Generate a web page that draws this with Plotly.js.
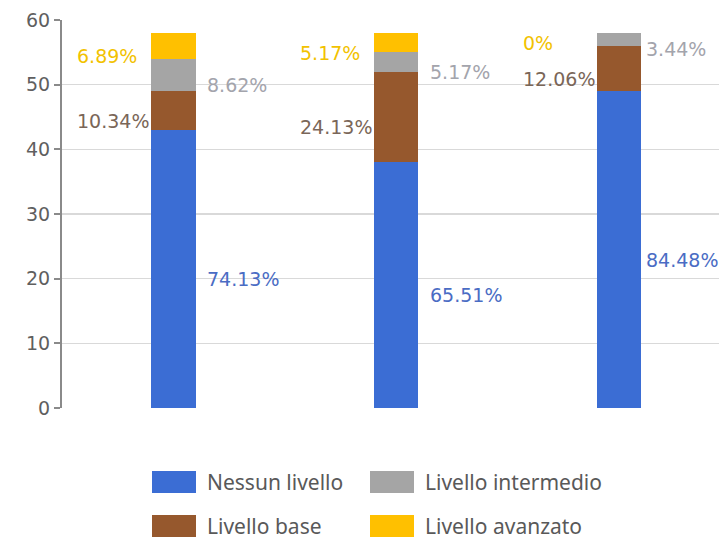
<!DOCTYPE html>
<html>
<head>
<meta charset="utf-8">
<script src="https://cdn.plot.ly/plotly-3.0.1.min.js"></script>
<style>
  html, body { margin: 0; padding: 0; background: #ffffff; }
  #chart { width: 719px; height: 545px; }
</style>
</head>
<body>
<div id="chart"></div>
<script>
// ---- data ----
const categories = ["Gruppo 1", "Gruppo 2", "Gruppo 3"];
const seriesNames = ["Nessun livello", "Livello base", "Livello intermedio", "Livello avanzato"];
const nessunLivello = [43, 38, 49];
const livelloBase = [6, 14, 7];
const livelloIntermedio = [5, 3, 2];
const livelloAvanzato = [4, 3, 0];
const pctNessun = ["74.13%", "65.51%", "84.48%"];
const pctBase = ["10.34%", "24.13%", "12.06%"];
const pctIntermedio = ["8.62%", "5.17%", "3.44%"];
const pctAvanzato = ["6.89%", "5.17%", "0%"];
const yTickVals = [0, 10, 20, 30, 40, 50, 60];

// ---- styles ----
const barColors = ["#3b6dd4", "#96582d", "#a5a5a5", "#ffc000"];
const labelColors = ["#4a6cc4", "#7a6658", "#a3a4ac", "#f2c200"];
const labelSide = ["right", "left", "right", "left"];
const FONT = "DejaVu Sans, sans-serif";

const values = [nessunLivello, livelloBase, livelloIntermedio, livelloAvanzato];
const pcts = [pctNessun, pctBase, pctIntermedio, pctAvanzato];

const traces = values.map((v, k) => ({
  type: "bar",
  name: seriesNames[k],
  x: categories,
  y: v,
  width: 0.2,
  marker: { color: barColors[k], line: { width: 0 } },
  hoverinfo: "x+y+name",
  showlegend: false
}));

// data labels beside each segment
const annotations = [];
categories.forEach((c, i) => {
  let bottom = 0;
  values.forEach((v, k) => {
    const mid = bottom + v[i] / 2;
    bottom += v[i];
    const right = labelSide[k] === "right";
    annotations.push({
      x: c, y: mid, xref: "x", yref: "y",
      text: pcts[k][i],
      showarrow: false,
      xanchor: "left",
      // keep the last right-hand label inside the page edge
      xshift: right ? (i === categories.length - 1 ? 25 : 32) : -98,
      yshift: -10,
      font: { family: FONT, size: 19, color: labelColors[k] }
    });
  });
});

// custom legend (paper coords from pixel layout)
const L = 62, R = 719, T = 20, B = 408;
const px = p => (p - L) / (R - L);
const py = p => (B - p) / (B - T);
const legendOrder = [0, 2, 1, 3];
const legendCols = [152, 370];
const legendRows = [482, 526];
const shapes = [];
legendOrder.forEach((k, j) => {
  const col = legendCols[j % 2];
  const row = legendRows[Math.floor(j / 2)];
  shapes.push({
    type: "rect", xref: "paper", yref: "paper",
    x0: px(col), x1: px(col + 44), y0: py(row + 11), y1: py(row - 11),
    fillcolor: barColors[k], line: { width: 0 }, layer: "above"
  });
  annotations.push({
    xref: "paper", yref: "paper",
    x: px(col + 53), y: py(row),
    text: seriesNames[k], showarrow: false,
    xanchor: "left", yanchor: "middle",
    font: { family: "Noto Sans, sans-serif", size: 21, color: "#595959" }
  });
});

const layout = {
  width: 719, height: 545,
  margin: { l: L, r: 719 - R, t: T, b: 545 - B, pad: 0 },
  paper_bgcolor: "#ffffff",
  plot_bgcolor: "#ffffff",
  barmode: "stack",
  showlegend: false,
  xaxis: {
    type: "category",
    range: [-0.5, 2.45],
    showticklabels: false,
    showgrid: false,
    zeroline: false,
    showline: false,
    ticks: "",
    fixedrange: true
  },
  yaxis: {
    range: [0, 60],
    tickvals: yTickVals,
    ticktext: yTickVals.map(String),
    ticks: "outside",
    ticklen: 6,
    tickwidth: 2,
    tickcolor: "#8a8a8a",
    showline: true,
    linecolor: "#8a8a8a",
    linewidth: 2,
    showgrid: true,
    gridcolor: "#d9d9d9",
    gridwidth: 1.5,
    zeroline: false,
    tickfont: { family: FONT, size: 19, color: "#5f5f5f" },
    fixedrange: true
  },
  annotations: annotations,
  shapes: shapes
};

Plotly.newPlot("chart", traces, layout, { displayModeBar: false, staticPlot: true });
</script>
</body>
</html>
